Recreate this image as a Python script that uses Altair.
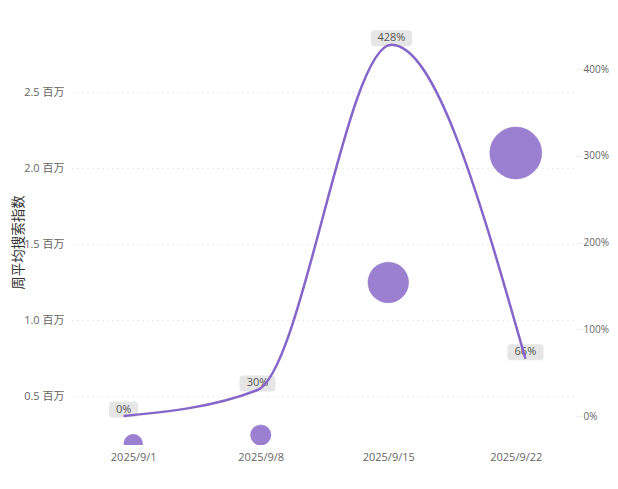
import altair as alt
import pandas as pd

dates = ["2025/9/1", "2025/9/8", "2025/9/15", "2025/9/22"]
search_index = [187000, 243000, 1247000, 2099000]
growth = [0, 30, 428, 66]
growth_labels = ["0%", "30%", "428%", "66%"]

df = pd.DataFrame({
    "date": dates,
    "idx": search_index,
    "growth": growth,
    "lab": growth_labels,
})

FONT = "Open Sans, Noto Sans CJK SC, sans-serif"
LINE_C = "#8566c9"
BUB_C = "#9b7fd1"

x_b = alt.X("date:N", sort=dates, title=None,
            scale=alt.Scale(type="point", padding=0.48),
            axis=alt.Axis(domain=False, ticks=False, labelPadding=6,
                          labelColor="#666", labelFontSize=11, labelAngle=0))
y_b = alt.Y("idx:Q", title="周平均搜索指数",
            scale=alt.Scale(domain=[177600, 2974000], nice=False, zero=False),
            axis=alt.Axis(values=[500000, 1000000, 1500000, 2000000, 2500000],
                          labelExpr="format(datum.value/1000000, '.1f') + ' 百万'",
                          domain=False, ticks=False, labelPadding=8,
                          labelColor="#666", labelFontSize=11,
                          grid=True, gridDash=[1, 4], gridColor="#d8d8d8",
                          titleFontSize=13.5, titleFontWeight="normal", titleColor="#333",
                          titleX=-54, titleY=222, titleAngle=-90,
                          titleBaseline="middle", titleAlign="center"))

bubbles = alt.Chart(df).mark_circle(color=BUB_C, opacity=1, clip=True,
                                    stroke="#8f72c8", strokeWidth=0.5).encode(
    x=x_b, y=y_b,
    size=alt.Size("idx:Q", legend=None,
                  scale=alt.Scale(domain=[0, 2100000], range=[116, 2697], zero=True)),
)

x_l = alt.X("date:N", sort=dates, title=None,
            scale=alt.Scale(type="point", padding=0.385), axis=None)
y_l = alt.Y("growth:Q", title=None,
            scale=alt.Scale(domain=[-33.4, 456.5], nice=False, zero=False),
            axis=alt.Axis(orient="right", values=[0, 100, 200, 300, 400],
                          labelExpr="datum.value + '%'", domain=False,
                          ticks=True, tickSize=4, tickDash=[1, 2], tickColor="#ccc",
                          labelPadding=2, labelColor="#666", labelFontSize=10,
                          grid=False))

base = alt.Chart(df)
rects = []
for n, w in [(2, 29), (3, 36), (4, 41)]:
    rects.append(
        base.transform_filter(f"length(datum.lab) == {n}")
        .mark_rect(width=w, height=16, cornerRadius=3, color="#e6e6e6", yOffset=-6.5)
        .encode(x=x_l, y=y_l)
    )
texts = base.mark_text(fontSize=11, color="#555", dy=-6.5, baseline="middle",
                       font=FONT).encode(x=x_l, y=y_l, text="lab:N")
line = base.mark_line(interpolate="monotone", color=LINE_C, strokeWidth=2.5).encode(
    x=x_l, y=y_l)

line_layer = alt.layer(*rects, texts, line)

chart = alt.layer(bubbles, line_layer).resolve_scale(
    x="independent", y="independent", size="independent"
).properties(
    width=505, height=425,
    autosize=alt.AutoSizeParams(type="none"),
    padding={"left": 64, "top": 12, "right": 33, "bottom": 36},
    background="white",
).configure(font=FONT).configure_view(strokeWidth=0, stroke="transparent")

chart.save("out.html", embed_options={"renderer": "svg", "actions": False})
